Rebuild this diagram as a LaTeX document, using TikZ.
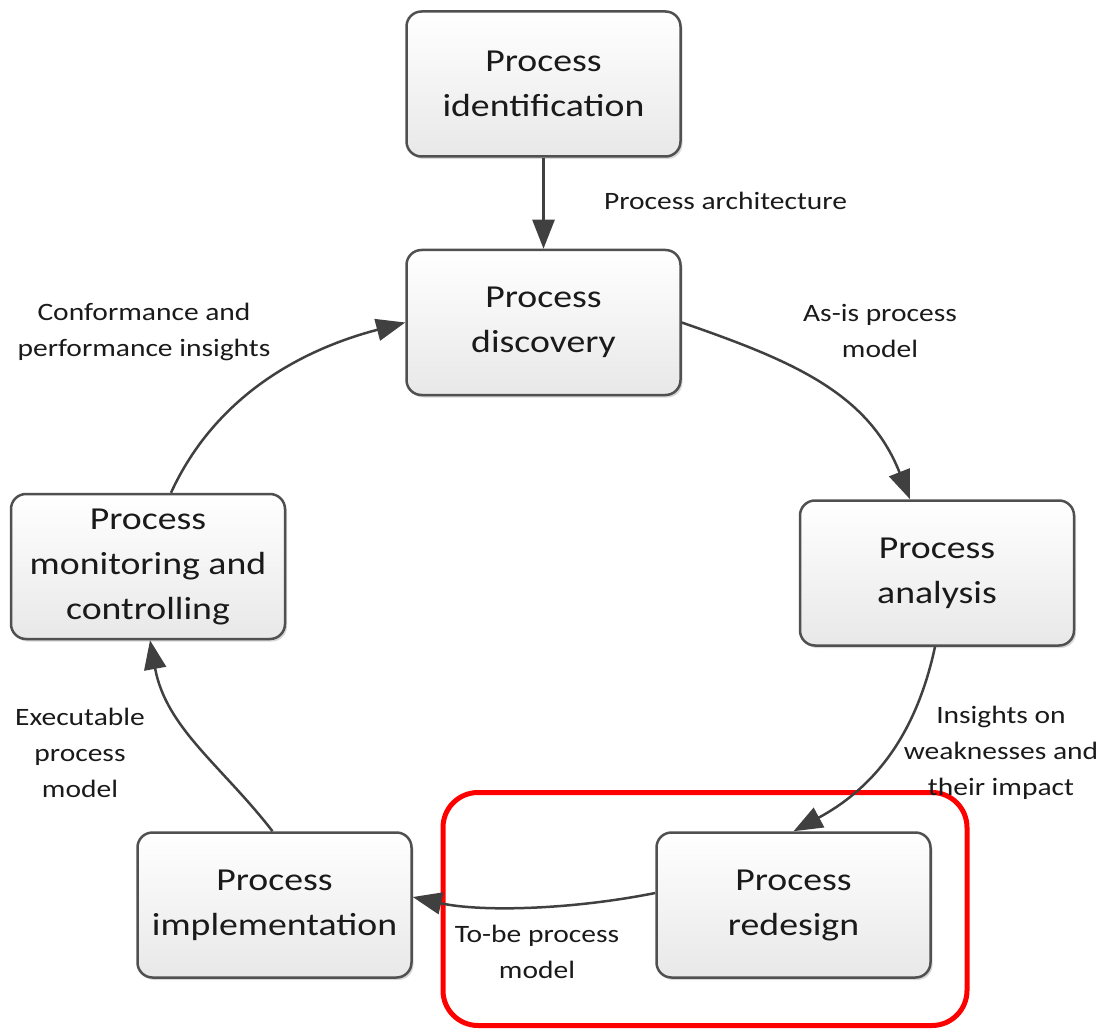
\documentclass[tikz,border=0pt]{standalone}
\usepackage{fontspec}
\usetikzlibrary{arrows.meta,shadows}
\newfontfamily\bxfont[FakeStretch=1.18]{Carlito}
\definecolor{edge}{HTML}{404040}
\definecolor{boxline}{HTML}{505050}
\definecolor{txt}{HTML}{1A1A1A}
\tikzset{
  procbox/.style={draw=boxline, line width=2.5pt, rounded corners=15pt,
    top color=white, bottom color=black!9,
    general shadow={fill=black!25, shadow xshift=2pt, shadow yshift=-2.5pt, opacity=0.6},
    minimum width=274pt, minimum height=145pt, align=center, text=txt,
    font=\bxfont\fontsize{32pt}{45pt}\selectfont, inner sep=0pt},
  lbl/.style={align=center, text=txt, font=\bxfont\fontsize{25pt}{36pt}\selectfont, inner sep=0pt},
  conn/.style={draw=edge, line width=2.5pt, -{Triangle[length=29pt,width=22pt]}},
  highlight/.style={draw=red, line width=5pt, rounded corners=35pt,
    minimum width=524pt, minimum height=233pt}
}
\begin{document}
\begin{tikzpicture}[x=1pt,y=-1pt]
\useasboundingbox (0,0) rectangle (1103,1032);
\node[highlight] (hl) at (705,909) {};
\node[procbox] (ident) at (543.5,84) {Process\\identification};
\node[procbox] (disc) at (543.5,322.5) {Process\\discovery};
\node[procbox] (ana) at (937,573) {Process\\analysis};
\node[procbox] (red) at (793.5,905) {Process\\redesign};
\node[procbox] (impl) at (274.5,905) {Process\\implementation};
\node[procbox] (mon) at (148,566.5) {Process\\monitoring and\\controlling};

\draw[conn] (ident.south) -- (disc.north);
\draw[conn] (disc.east) .. controls (790,360) and (868,392) .. ([xshift=-27pt]ana.north);
\draw[conn] ([xshift=-2pt]ana.south) .. controls (915,740) and (870,790) .. (red.north);
\draw[conn] ([yshift=12pt]red.west) .. controls (570,910) and (480,912) .. ([yshift=8pt]impl.east);
\draw[conn] ([xshift=-2pt]impl.north) .. controls (222,766) and (166,728) .. ([xshift=2pt]mon.south);
\draw[conn] ([xshift=23pt]mon.north) .. controls (215,397) and (300,350) .. (disc.west);

\node[lbl] (l1) at (725.5,201) {Process architecture};
\node[lbl] (l2) at (880,331) {As-is process\\model};
\node[lbl] (l3) at (144,332) {Conformance and\\performance insights};
\node[lbl] (l4) at (1001,753) {Insights on\\weaknesses and\\their impact};
\node[lbl] (l5) at (80,753) {Executable\\process\\model};
\node[lbl] (l6) at (537,952) {To-be process\\model};
\end{tikzpicture}
\end{document}
